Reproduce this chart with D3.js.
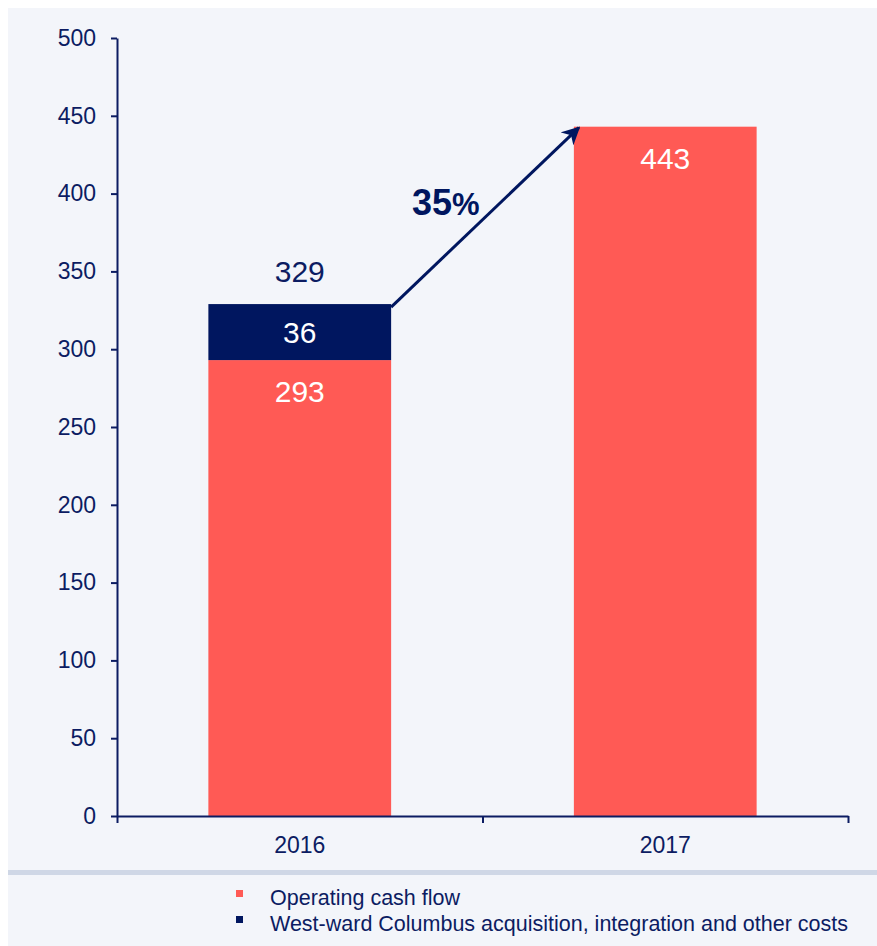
<!DOCTYPE html>
<html lang="en">
<head>
<meta charset="utf-8">
<title>Operating cash flow</title>
<script src="https://cdn.jsdelivr.net/npm/d3@7"></script>
<style>
  body { margin: 0; background: #fff; }
  text { font-family: "Liberation Sans", Arial, sans-serif; }
</style>
</head>
<body>
<script>
var years = ["2016", "2017"];
var operating = [293, 443];
var westward = [36, 0];
var totals = [329, 443];
var yTicks = [0, 50, 100, 150, 200, 250, 300, 350, 400, 450, 500];
var growthLabel = "35";
var seriesNames = ["Operating cash flow", "West-ward Columbus acquisition, integration and other costs"];

var w = 877, h = 946;
var red = "#ff5a55", navy = "#00165f", ink = "#0c1c62";

var svg = d3.select("body").append("svg")
    .attr("width", w)
    .attr("height", h);

svg.append("rect")
    .attr("x", 8).attr("y", 8)
    .attr("width", w - 8).attr("height", h - 8)
    .attr("fill", "#f3f5fa");

var yScale = d3.scaleLinear().domain([0, 500]).range([816, 38]);
var xScale = d3.scaleBand().domain(years).range([117, 848])
    .paddingInner(0.5).paddingOuter(0.25);
var edge = d3.scaleLinear().domain([0, years.length]).range([117, 848]);

// bars
var g = svg.append("g");
years.forEach(function(yr, i) {
    g.append("rect")
        .attr("x", xScale(yr))
        .attr("y", yScale(operating[i]))
        .attr("width", xScale.bandwidth())
        .attr("height", yScale(0) - yScale(operating[i]))
        .attr("fill", red);
    if (westward[i] > 0) {
        g.append("rect")
            .attr("x", xScale(yr))
            .attr("y", yScale(operating[i] + westward[i]))
            .attr("width", xScale.bandwidth())
            .attr("height", yScale(operating[i]) - yScale(operating[i] + westward[i]))
            .attr("fill", navy);
    }
});

// y axis
var yAxis = svg.append("g")
    .attr("transform", "translate(117,0)")
    .call(d3.axisLeft(yScale).tickValues(yTicks).tickSize(6).tickSizeOuter(0).tickPadding(15));
yAxis.selectAll("text").attr("font-size", "23px").attr("fill", ink).attr("font-family", null);

// x axis: ticks on band edges, labels in the middle
var xAxis = svg.append("g")
    .attr("transform", "translate(0,816)")
    .call(d3.axisBottom(edge).tickValues(d3.range(years.length + 1)).tickFormat("").tickSize(7).tickSizeOuter(0));
svg.selectAll(".domain, .tick line").attr("stroke", ink).attr("stroke-width", 2);

svg.append("g").selectAll("text")
    .data(years)
    .enter()
    .append("text")
    .attr("x", function(d) { return xScale(d) + xScale.bandwidth() / 2; })
    .attr("y", 853)
    .attr("text-anchor", "middle")
    .attr("font-size", "23px")
    .attr("fill", ink)
    .text(function(d) { return d; });

// value labels
years.forEach(function(yr, i) {
    var cx = xScale(yr) + xScale.bandwidth() / 2;
    svg.append("text")
        .attr("x", cx).attr("y", yScale(operating[i]) + 42)
        .attr("text-anchor", "middle").attr("font-size", "30px").attr("fill", "#fff")
        .text(operating[i]);
    if (westward[i] > 0) {
        svg.append("text")
            .attr("x", cx).attr("y", (yScale(operating[i]) + yScale(operating[i] + westward[i])) / 2 + 11)
            .attr("text-anchor", "middle").attr("font-size", "30px").attr("fill", "#fff")
            .text(westward[i]);
        svg.append("text")
            .attr("x", cx).attr("y", yScale(totals[i]) - 22)
            .attr("text-anchor", "middle").attr("font-size", "30px").attr("fill", ink)
            .text(totals[i]);
    }
});

// growth arrow
svg.append("defs").append("marker")
    .attr("id", "head")
    .attr("viewBox", "0 0 10 10")
    .attr("refX", 9).attr("refY", 5)
    .attr("markerWidth", 6).attr("markerHeight", 6)
    .attr("orient", "auto")
    .append("path")
    .attr("d", "M0,0 L10,5 L0,10 L3,5 Z")
    .attr("fill", navy);

svg.append("line")
    .attr("x1", xScale("2016") + xScale.bandwidth())
    .attr("y1", yScale(totals[0]) + 3)
    .attr("x2", xScale("2017") + 5)
    .attr("y2", yScale(totals[1]) + 1)
    .attr("stroke", navy)
    .attr("stroke-width", 3)
    .attr("marker-end", "url(#head)");

var pct = svg.append("text")
    .attr("x", 412).attr("y", 215)
    .attr("font-weight", "bold").attr("fill", navy);
pct.append("tspan").attr("font-size", "36px").text(growthLabel);
pct.append("tspan").attr("font-size", "31px").text("%");

// separator and legend
svg.append("rect")
    .attr("x", 8).attr("y", 870)
    .attr("width", w - 8).attr("height", 5)
    .attr("fill", "#cfd7e6");

var legend = svg.append("g").selectAll("g")
    .data(seriesNames)
    .enter()
    .append("g")
    .attr("transform", function(d, i) { return "translate(236," + (890 + i * 26) + ")"; });
legend.append("rect")
    .attr("width", 7).attr("height", 7)
    .attr("fill", function(d, i) { return i === 0 ? red : navy; });
legend.append("text")
    .attr("x", 34).attr("y", 15)
    .attr("font-size", "21.5px")
    .attr("fill", ink)
    .text(function(d) { return d; });
</script>
</body>
</html>
